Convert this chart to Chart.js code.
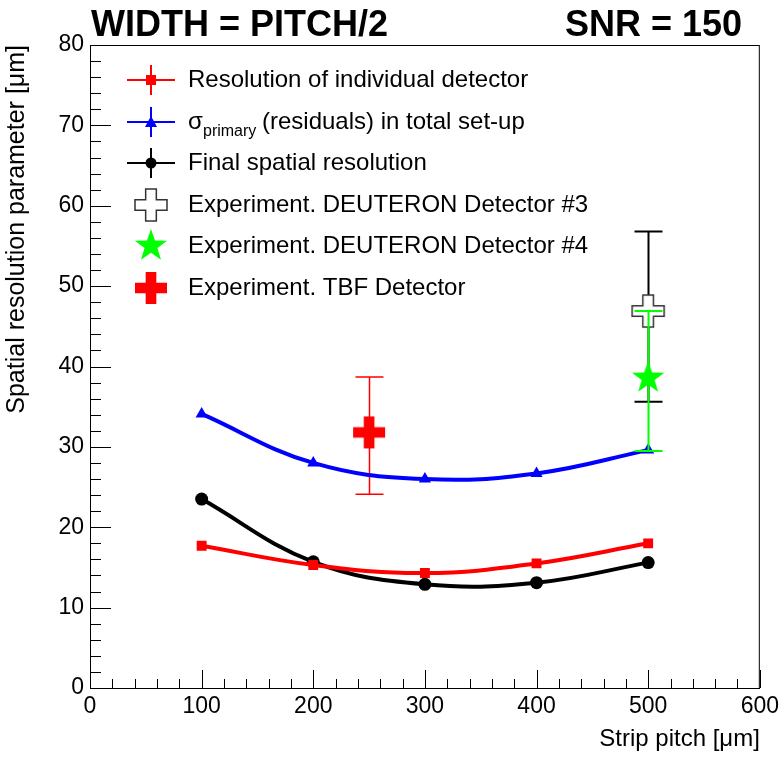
<!DOCTYPE html>
<html>
<head>
<meta charset="utf-8">
<script src="https://cdn.jsdelivr.net/npm/chart.js@4"></script>
<style>
  body { margin: 0; background: #fff; }
  #wrap { width: 784px; height: 758px; }
</style>
</head>
<body>
<div id="wrap"><canvas id="resChart" width="784" height="758"></canvas></div>
<script>
// strip pitch [um]
const pitches = [100, 200, 300, 400, 500];
const individualRes = [17.7, 15.3, 14.3, 15.5, 18.0];
const sigmaPrimary = [34.1, 28.0, 26.0, 26.7, 29.6];
const finalRes = [23.5, 15.7, 12.9, 13.1, 15.6];

// experimental points: x, y, lower, upper
const deut3 = { x: 500, y: 46.9, lo: 35.6, hi: 56.8 };
const deut4 = { x: 500, y: 38.7, lo: 29.5, hi: 46.9 };
const tbf = { x: 250, y: 31.8, lo: 24.1, hi: 38.7 };

const FONT = "'Liberation Sans', Arial, Helvetica, sans-serif";

// custom marker images
function crossImg(size, fill, stroke) {
  const c = document.createElement("canvas");
  c.width = size + 4; c.height = size + 4;
  const g = c.getContext("2d");
  const s = size, a = s / 3, o = 2;
  g.beginPath();
  g.moveTo(o + a, o); g.lineTo(o + 2 * a, o); g.lineTo(o + 2 * a, o + a);
  g.lineTo(o + s, o + a); g.lineTo(o + s, o + 2 * a); g.lineTo(o + 2 * a, o + 2 * a);
  g.lineTo(o + 2 * a, o + s); g.lineTo(o + a, o + s); g.lineTo(o + a, o + 2 * a);
  g.lineTo(o, o + 2 * a); g.lineTo(o, o + a); g.lineTo(o + a, o + a);
  g.closePath();
  g.fillStyle = fill; g.fill();
  if (stroke) { g.strokeStyle = stroke; g.lineWidth = 1.5; g.stroke(); }
  return c;
}
function starImg(size, fill) {
  const c = document.createElement("canvas");
  c.width = size; c.height = size;
  const g = c.getContext("2d");
  const cx = size / 2, cy = size / 2 + 1, R = size / 2, r = R * 0.4;
  g.beginPath();
  for (let i = 0; i < 10; i++) {
    const ang = -Math.PI / 2 + i * Math.PI / 5;
    const rad = i % 2 === 0 ? R : r;
    g.lineTo(cx + rad * Math.cos(ang), cy + rad * Math.sin(ang));
  }
  g.closePath();
  g.fillStyle = fill; g.fill();
  return c;
}

const openCross = crossImg(32, "#ffffff", "#333333");
const redCross = crossImg(32, "#ff0000");
const greenStar = starImg(34, "#00ff00");

function xy(xs, ys) { return xs.map((x, i) => ({ x: x, y: ys[i] })); }

// error bars + frame + inner ticks + title + legend
const decorPlugin = {
  id: "decor",
  beforeDatasetsDraw(chart) {
    drawErr(chart, deut3, "#000000", 2);
    drawErr(chart, tbf, "#ff0000", 1.5);
  },
  afterDatasetsDraw(chart) {
    const ctx = chart.ctx;
    drawErr(chart, deut4, "#00ff00", 2);
    const xs = chart.scales.x, ys = chart.scales.y, a = chart.chartArea;
    ctx.save();
    ctx.strokeStyle = "#000"; ctx.lineWidth = 1;
    ctx.strokeRect(a.left + 0.5, a.top + 0.5, a.right - a.left - 1, a.bottom - a.top);
    // inner ticks
    for (let v = 0; v <= 600; v += 20) {
      const px = Math.round(xs.getPixelForValue(v)) + 0.5;
      const len = v % 100 === 0 ? 18 : 9;
      ctx.beginPath(); ctx.moveTo(px, a.bottom); ctx.lineTo(px, a.bottom - len); ctx.stroke();
    }
    for (let v = 0; v <= 80; v += 2) {
      const py = Math.round(ys.getPixelForValue(v)) + 0.5;
      const len = v % 10 === 0 ? 21 : 11;
      ctx.beginPath(); ctx.moveTo(a.left, py); ctx.lineTo(a.left + len, py); ctx.stroke();
    }
    // title
    ctx.fillStyle = "#000";
    ctx.font = "bold 36px " + FONT;
    ctx.textBaseline = "alphabetic";
    ctx.textAlign = "left";
    ctx.fillText("WIDTH = PITCH/2", 91, 36);
    ctx.textAlign = "right";
    ctx.fillText("SNR = 150", 742, 36);
    // legend
    drawLegend(ctx);
    ctx.restore();
  }
};

function drawErr(chart, p, color, lw) {
  const ctx = chart.ctx, xs = chart.scales.x, ys = chart.scales.y;
  const px = Math.round(xs.getPixelForValue(p.x)) + 0.5;
  const yl = ys.getPixelForValue(p.lo), yh = ys.getPixelForValue(p.hi);
  ctx.save();
  ctx.strokeStyle = color; ctx.lineWidth = lw;
  ctx.beginPath();
  ctx.moveTo(px, yl); ctx.lineTo(px, yh);
  ctx.moveTo(px - 14, yl); ctx.lineTo(px + 14, yl);
  ctx.moveTo(px - 14, yh); ctx.lineTo(px + 14, yh);
  ctx.stroke();
  ctx.restore();
}

function drawLegend(ctx) {
  const sx = 151, tx = 188;
  const rows = [80, 122, 163, 205, 246, 288];
  ctx.font = "24px " + FONT;
  ctx.textAlign = "left";
  ctx.textBaseline = "middle";
  const lineRow = (y, col) => {
    ctx.strokeStyle = col; ctx.lineWidth = 2;
    ctx.beginPath();
    ctx.moveTo(127, y); ctx.lineTo(175, y);
    ctx.moveTo(sx, y - 15); ctx.lineTo(sx, y + 15);
    ctx.stroke();
  };
  // red square
  lineRow(rows[0], "#ff0000");
  ctx.fillStyle = "#ff0000"; ctx.fillRect(sx - 5, rows[0] - 5, 10, 10);
  // blue triangle
  lineRow(rows[1], "#0000ff");
  ctx.fillStyle = "#0000ff";
  ctx.beginPath(); ctx.moveTo(sx, rows[1] - 6); ctx.lineTo(sx + 6, rows[1] + 5); ctx.lineTo(sx - 6, rows[1] + 5); ctx.closePath(); ctx.fill();
  // black circle
  lineRow(rows[2], "#000000");
  ctx.fillStyle = "#000"; ctx.beginPath(); ctx.arc(sx, rows[2], 5.5, 0, Math.PI * 2); ctx.fill();
  ctx.drawImage(openCross, sx - 18, rows[3] - 18);
  ctx.drawImage(greenStar, sx - 17, rows[4] - 18);
  ctx.drawImage(redCross, sx - 18, rows[5] - 18);

  ctx.fillStyle = "#000";
  ctx.fillText("Resolution of individual detector", tx, rows[0]);
  ctx.fillText("\u03c3", tx, rows[1]);
  ctx.font = "16px " + FONT;
  ctx.fillText("primary", tx + 15, rows[1] + 10);
  ctx.font = "24px " + FONT;
  ctx.fillText("(residuals) in total set-up", tx + 74, rows[1]);
  ctx.fillText("Final spatial resolution", tx, rows[2]);
  ctx.fillText("Experiment. DEUTERON Detector #3", tx, rows[3]);
  ctx.fillText("Experiment. DEUTERON Detector #4", tx, rows[4]);
  ctx.fillText("Experiment. TBF Detector", tx, rows[5]);
}

const ctx = document.getElementById("resChart").getContext("2d");
new Chart(ctx, {
  type: "scatter",
  data: {
    datasets: [
      {
        label: "sigma primary",
        data: xy(pitches, sigmaPrimary),
        showLine: true, tension: 0.4,
        borderColor: "#0000ff", borderWidth: 4,
        pointStyle: "triangle", pointRadius: 7,
        pointBackgroundColor: "#0000ff", pointBorderWidth: 0
      },
      {
        label: "individual",
        data: xy(pitches, individualRes),
        showLine: true, tension: 0.4,
        borderColor: "#ff0000", borderWidth: 4,
        pointStyle: "rect", pointRadius: 7,
        pointBackgroundColor: "#ff0000", pointBorderWidth: 0
      },
      {
        label: "final",
        data: xy(pitches, finalRes),
        showLine: true, tension: 0.4,
        borderColor: "#000000", borderWidth: 4,
        pointStyle: "circle", pointRadius: 6.5,
        pointBackgroundColor: "#000000", pointBorderWidth: 0
      },
      {
        label: "deut3",
        data: [{ x: deut3.x, y: deut3.y }],
        pointStyle: openCross, pointRadius: 18
      },
      {
        label: "deut4",
        data: [{ x: deut4.x, y: deut4.y }],
        pointStyle: greenStar, pointRadius: 17
      },
      {
        label: "tbf",
        data: [{ x: tbf.x, y: tbf.y }],
        pointStyle: redCross, pointRadius: 18
      }
    ]
  },
  options: {
    responsive: false,
    animation: false,
    events: [],
    layout: { padding: { top: 45, right: 22, left: 0, bottom: 0 } },
    plugins: { legend: { display: false }, tooltip: { enabled: false } },
    scales: {
      x: {
        type: "linear", min: 0, max: 600,
        grid: { display: false, drawTicks: false },
        border: { display: true, color: "#000", width: 1 },
        ticks: { stepSize: 100, color: "#000", font: { family: FONT, size: 23 }, padding: 5, maxRotation: 0 },
        title: { display: true, text: "Strip pitch [\u03bcm]", align: "end", color: "#000", font: { family: FONT, size: 24 }, padding: { top: 4 } },
        afterFit(scale) { scale.height = 70; }
      },
      y: {
        type: "linear", min: 0, max: 80,
        grid: { display: false, drawTicks: false },
        border: { display: true, color: "#000", width: 1 },
        ticks: { stepSize: 10, color: "#000", font: { family: FONT, size: 23 }, padding: 6 },
        title: { display: true, text: "Spatial resolution parameter [\u03bcm]", align: "end", color: "#000", font: { family: FONT, size: 25 }, padding: { top: 2, bottom: 2 } },
        afterFit(scale) { scale.width = 90; }
      }
    }
  },
  plugins: [decorPlugin]
});
</script>
</body>
</html>
